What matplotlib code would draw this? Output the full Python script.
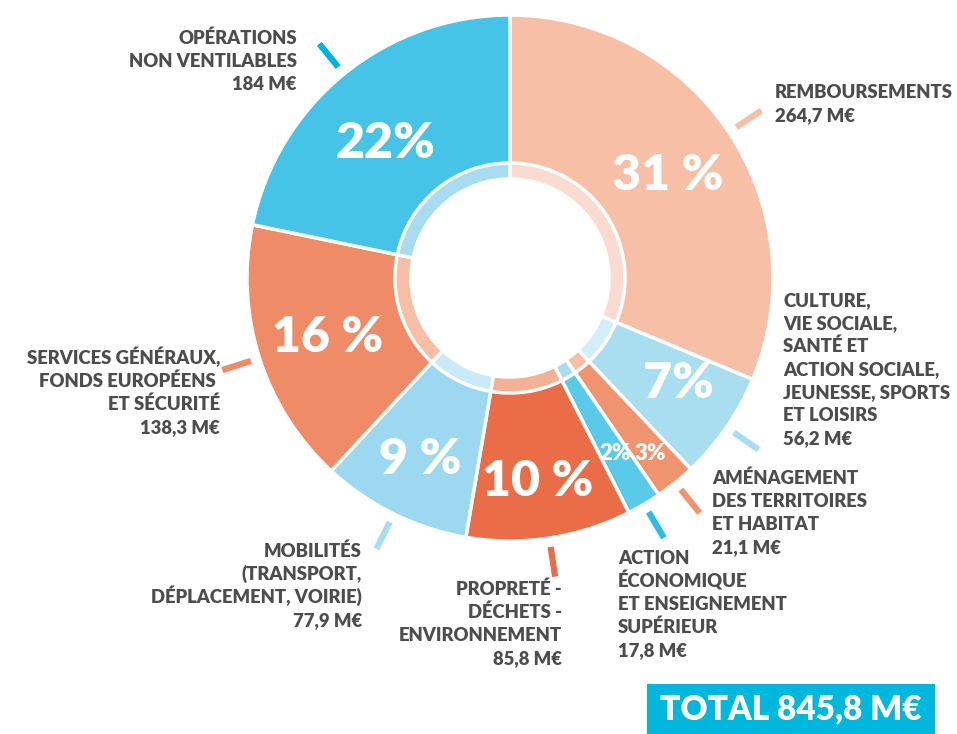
import numpy as np
import matplotlib
matplotlib.use("Agg")
import matplotlib.pyplot as plt
from matplotlib.patches import Rectangle

# données (M€), dans l'ordre des aiguilles d'une montre depuis le haut
labels = [
    "REMBOURSEMENTS\n264,7 M€",
    "CULTURE,\nVIE SOCIALE,\nSANTÉ ET\nACTION SOCIALE,\nJEUNESSE, SPORTS\nET LOISIRS\n56,2 M€",
    "AMÉNAGEMENT\nDES TERRITOIRES\nET HABITAT\n21,1 M€",
    "ACTION\nÉCONOMIQUE\nET ENSEIGNEMENT\nSUPÉRIEUR\n17,8 M€",
    "PROPRETÉ -\nDÉCHETS -\nENVIRONNEMENT\n85,8 M€",
    "MOBILITÉS\n(TRANSPORT,\nDÉPLACEMENT, VOIRIE)\n77,9 M€",
    "SERVICES GÉNÉRAUX,\nFONDS EUROPÉENS \nET SÉCURITÉ\n138,3 M€",
    "OPÉRATIONS\nNON VENTILABLES\n184 M€",
]
values = [264.7, 56.2, 21.1, 17.8, 85.8, 77.9, 138.3, 184.0]
percents = ["31 %", "7%", "3%", "2%", "10 %", "9 %", "16 %", "22%"]
total_text = "TOTAL 845,8 M€"

colors = ["#F6BFA6", "#A9DEF1", "#F0946F", "#5ACAE9",
          "#EA6D47", "#9CD8F0", "#EF8B66", "#46C4E7"]
ring_colors = ["#F9DCCF", "#D3EEF8", "#F6C0A8", "#A9DEF1",
               "#F3B195", "#C9EAF7", "#F6BFA6", "#A8DDF1"]
tick_colors = ["#F6BFA6", "#A9DEF1", "#F0946F", "#2EBCE1",
               "#EA6D47", "#A9DEF1", "#EF8B66", "#00B4DC"]

W, H = 957, 734
TXT = "#4D4D4D"
LINE = 23  # interligne des libellés, en pixels
plt.rcParams["font.family"] = ["Lato", "DejaVu Sans"]

fig = plt.figure(figsize=(W / 100, H / 100), dpi=100)
ax = fig.add_axes([0, 0, 1, 1])

# centre et rayons en pixels (y vers le haut)
cx, cy = 510, H - 278
r_out, r_ring, r_hole = 263, 115, 99

wedges, _ = ax.pie(
    values, colors=colors, startangle=90, counterclock=False,
    radius=r_out, center=(cx, cy), frame=True,
    wedgeprops=dict(width=r_out - r_hole, edgecolor="white", linewidth=2.5),
)
ax.pie(
    values, colors=ring_colors, startangle=90, counterclock=False,
    radius=r_ring, center=(cx, cy), frame=True,
    wedgeprops=dict(width=r_ring - r_hole, edgecolor="white", linewidth=2.5),
)

# petits traits de repère au milieu de chaque part
for w, tc in zip(wedges, tick_colors):
    a = np.deg2rad((w.theta1 + w.theta2) / 2)
    ax.plot([cx + 272 * np.cos(a), cx + 302 * np.cos(a)],
            [cy + 272 * np.sin(a), cy + 302 * np.sin(a)],
            color=tc, lw=4.5, solid_capstyle="butt")

# pourcentages
pct_pos = [(668, 176), (678, 383), (650, 453), (615, 453),
           (538, 482), (420, 460), (328, 337), (385, 143)]
for p, (x, y) in zip(percents, pct_pos):
    small = p in ("2%", "3%")
    ax.text(x, H - y, p, color="white", fontsize=16 if small else 36,
            fontweight="heavy", ha="center", va="center")

# libellés (ligne par ligne pour garder un interligne régulier)
lab_pos = [(775, 98, "left"), (783, 306, "left"), (712, 484, "left"),
           (618, 564, "left"), (562, 595, "right"), (362, 557, "right"),
           (220, 364, "right"), (297, 44, "right")]
for t, (x, y, ha) in zip(labels, lab_pos):
    for i, line in enumerate(t.split("\n")):
        ax.text(x, H - (y + i * LINE), line, color=TXT, fontsize=13.3,
                fontweight="heavy", ha=ha, va="baseline")

# encadré total
ax.add_patch(Rectangle((647, 0), 288, 50, color="#00B8DE", lw=0))
ax.text(791, 25, total_text, color="white", fontsize=24,
        fontweight="heavy", ha="center", va="center")

ax.set_xlim(0, W)
ax.set_ylim(0, H)
ax.set_aspect("auto")
ax.axis("off")

fig.savefig("out.png", dpi=100)
